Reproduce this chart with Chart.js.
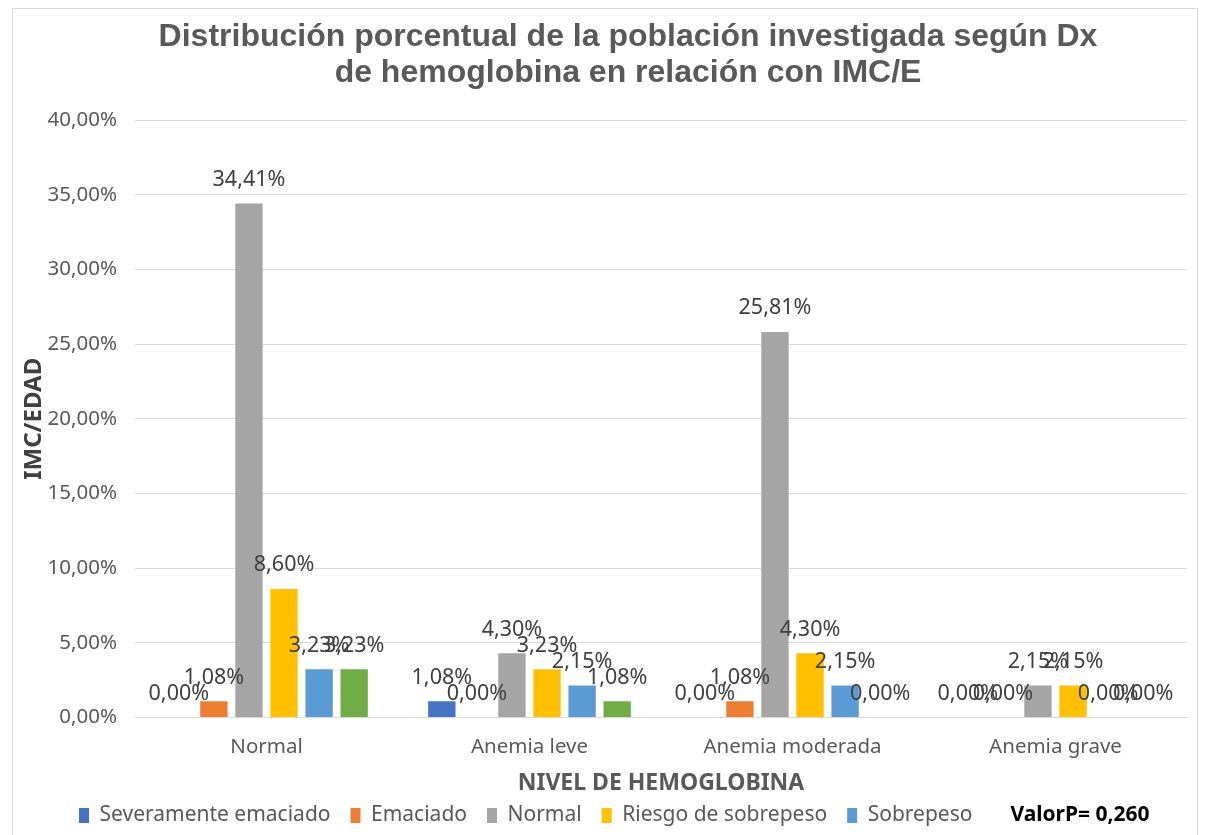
<!DOCTYPE html>
<html>
<head>
<meta charset="utf-8">
<script src="https://cdn.jsdelivr.net/npm/chart.js@4.4.1/dist/chart.umd.min.js"></script>
<style>
  html, body { margin: 0; padding: 0; background: #fff; }
  #wrap { width: 1207px; height: 835px; position: relative; }
</style>
</head>
<body>
<div id="wrap"><canvas id="c" width="1207" height="835"></canvas></div>
<script>
const categories = ["Normal", "Anemia leve", "Anemia moderada", "Anemia grave"];
const seriesNames = ["Severamente emaciado", "Emaciado", "Normal", "Riesgo de sobrepeso", "Sobrepeso", "Obesidad"];
const severamenteEmaciado = [0.00, 1.08, 0.00, 0.00];
const emaciado = [1.08, 0.00, 1.08, 0.00];
const normal = [34.41, 4.30, 25.81, 2.15];
const riesgoSobrepeso = [8.60, 3.23, 4.30, 2.15];
const sobrepeso = [3.23, 2.15, 2.15, 0.00];
const obesidad = [3.23, 1.08, 0.00, 0.00];
const yTicks = [0, 5, 10, 15, 20, 25, 30, 35, 40];
const titleLines = ["Distribución porcentual de la población investigada según Dx", "de hemoglobina en relación con IMC/E"];
const valorP = "ValorP= 0,260";

const colors = ["#4472C4", "#ED7D31", "#A5A5A5", "#FFC000", "#5B9BD5", "#70AD47"];
const seriesData = [severamenteEmaciado, emaciado, normal, riesgoSobrepeso, sobrepeso, obesidad];

const fmt = v => v.toFixed(2).replace('.', ',') + '%';
const baseFont = "'Noto Sans', sans-serif";

const framePlugin = {
  id: 'frame',
  beforeDraw(chart) {
    const ctx = chart.ctx;
    ctx.save();
    ctx.fillStyle = '#fff';
    ctx.fillRect(0, 0, chart.width, chart.height);
    ctx.strokeStyle = '#d9d9d9';
    ctx.lineWidth = 1;
    ctx.strokeRect(12.5, 8.5, 1185, 840);
    ctx.restore();
  },
  afterDraw(chart) {
    const ctx = chart.ctx;
    ctx.save();
    ctx.fillStyle = '#595959';
    ctx.font = "bold 32px 'Liberation Sans', Arial, sans-serif";
    ctx.textAlign = 'center';
    ctx.textBaseline = 'middle';
    ctx.fillText(titleLines[0], 628, 37);
    ctx.fillText(titleLines[1], 628, 73);
    const lg = chart.legend;
    if (lg && lg.legendHitBoxes && lg.legendHitBoxes.length) {
      const hb = lg.legendHitBoxes[lg.legendHitBoxes.length - 1];
      ctx.fillStyle = '#000';
      ctx.font = "bold 21px 'Noto Sans', sans-serif";
      ctx.textAlign = 'left';
      ctx.textBaseline = 'middle';
      ctx.fillText(valorP, hb.left + 18, hb.top + hb.height / 2);
    }
    ctx.restore();
  }
};

const labelPlugin = {
  id: 'barLabels',
  afterDatasetsDraw(chart) {
    const ctx = chart.ctx;
    ctx.save();
    ctx.fillStyle = '#404040';
    ctx.font = "21.5px " + baseFont;
    ctx.textAlign = 'center';
    ctx.textBaseline = 'bottom';
    chart.data.datasets.forEach((ds, i) => {
      const meta = chart.getDatasetMeta(i);
      meta.data.forEach((el, j) => {
        ctx.fillText(fmt(ds.data[j]), el.x, el.y - 13);
      });
    });
    ctx.restore();
  }
};

new Chart(document.getElementById('c'), {
  type: 'bar',
  data: {
    labels: categories,
    datasets: seriesNames.map((n, i) => ({
      label: n,
      data: seriesData[i],
      backgroundColor: colors[i],
      borderWidth: 0,
      barPercentage: 0.78,
      categoryPercentage: 0.8
    }))
  },
  options: {
    responsive: false,
    animation: false,
    layout: { padding: { top: 120, left: 45, right: 20, bottom: -1 } },
    plugins: {
      title: { display: false },
      tooltip: { enabled: false },
      legend: {
        position: 'bottom',
        labels: {
          color: '#595959',
          font: { size: 21, family: baseFont },
          boxWidth: 10,
          boxHeight: 15,
          padding: 20,
          generateLabels(chart) {
            const items = Chart.defaults.plugins.legend.labels.generateLabels(chart).filter(it => it.datasetIndex < 5);
            items.push({ text: valorP + ' ', fillStyle: 'rgba(0,0,0,0)', strokeStyle: 'rgba(0,0,0,0)', lineWidth: 0, fontColor: 'rgba(0,0,0,0)', hidden: false, datasetIndex: 99 });
            return items;
          }
        }
      }
    },
    scales: {
      x: {
        grid: { display: false },
        border: { display: true, color: '#d9d9d9' },
        ticks: { color: '#595959', font: { size: 20.5, family: baseFont }, padding: 9 },
        title: { display: true, text: 'NIVEL DE HEMOGLOBINA', color: '#595959', font: { size: 23, weight: 'bold', family: baseFont }, padding: { top: 0, bottom: -12 } },
        afterFit(scale) { scale.height = 67.5; }
      },
      y: {
        min: 0, max: 40,
        afterBuildTicks(scale) { scale.ticks = yTicks.map(v => ({ value: v })); },
        grid: { color: '#d9d9d9', drawTicks: false },
        border: { display: false },
        ticks: { color: '#595959', font: { size: 20.5, family: baseFont }, padding: 18, callback: v => fmt(v) },
        title: { display: true, text: 'IMC/EDAD', color: '#404040', font: { size: 24, weight: 'bold', family: baseFont }, padding: { top: -25, bottom: 0 } },
        afterFit(scale) { scale.width = 90; }
      }
    }
  },
  plugins: [framePlugin, labelPlugin]
});
</script>
</body>
</html>
